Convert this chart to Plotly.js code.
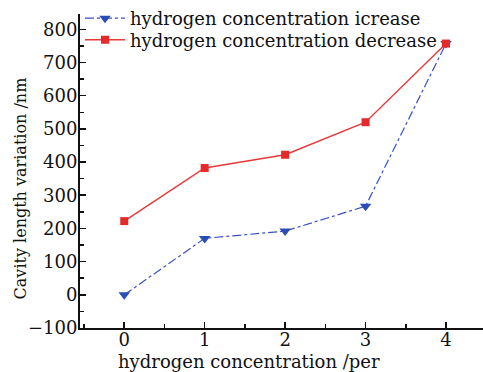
<!DOCTYPE html>
<html><head><meta charset="utf-8">
<script src="https://cdn.plot.ly/plotly-3.0.1.min.js"></script>
<style>html,body{margin:0;padding:0;background:#fff}#c{width:483px;height:372px}</style>
</head><body><div id="c"></div>
<script>
const xValues = [0, 1, 2, 3, 4];
const increaseValues = [0, 170, 192, 267, 757];
const decreaseValues = [222, 382, 422, 520, 757];
const seriesNames = ["hydrogen concentration icrease", "hydrogen concentration decrease"];
const xTitle = "hydrogen concentration /per";
const yTitle = "Cavity length variation /nm";

const font = "DejaVu Serif";
const W = 483, H = 372, mL = 80, mR = 0, mT = 13, mB = 44;
const pw = W - mL - mR, ph = H - mT - mB;
const px = v => (v - mL) / pw;          // pixel x -> paper x
const py = v => (H - mB - v) / ph;      // pixel y -> paper y

const traces = [
  {x: xValues, y: increaseValues, name: seriesNames[0], mode: "lines+markers", legend: "legend",
   line: {color: "#3a4fc4", width: 1.2, dash: "dashdot"},
   marker: {symbol: "triangle-down", size: 10, color: "#2a4cb8"}},
  {x: xValues, y: decreaseValues, name: seriesNames[1], mode: "lines+markers", legend: "legend2",
   line: {color: "#e8383a", width: 1.4},
   marker: {symbol: "square", size: 8, color: "#e62a2a"}}
];
const legendBase = {xanchor: "left", yanchor: "middle", bgcolor: "rgba(0,0,0,0)",
  font: {family: font, size: 18, color: "#111"}, itemwidth: 40, borderwidth: 0};
const layout = {
  width: W, height: H,
  margin: {l: mL, r: mR, t: mT, b: mB},
  paper_bgcolor: "#fff", plot_bgcolor: "#fff",
  font: {family: font, size: 18, color: "#111"},
  showlegend: true,
  legend: Object.assign({x: px(80), y: py(18)}, legendBase),
  legend2: Object.assign({x: px(80), y: py(40)}, legendBase),
  xaxis: {range: [-0.55, 4.46], tickvals: xValues, showgrid: false, zeroline: false,
          showline: true, linecolor: "#111", linewidth: 2, ticks: "inside", ticklen: 6, tickwidth: 1.5,
          tickcolor: "#111", minor: {dtick: 0.5, ticks: "inside", ticklen: 4, tickcolor: "#111", showgrid: false},
          tickfont: {family: font, size: 18}, ticklabelstandoff: -6},
  yaxis: {range: [-100, 846], dtick: 100, showgrid: false, zeroline: false,
          showline: true, linecolor: "#111", linewidth: 2, ticks: "inside", ticklen: 6, tickwidth: 1.5,
          tickcolor: "#111", minor: {dtick: 50, ticks: "inside", ticklen: 4, tickcolor: "#111", showgrid: false},
          tickfont: {family: font, size: 18}, ticklabelstandoff: -3},
  annotations: [
    {text: xTitle, xref: "paper", yref: "paper", x: px(249), y: py(362), xanchor: "center", yanchor: "middle",
     showarrow: false, font: {family: font, size: 18, color: "#111"}},
    {text: yTitle, xref: "paper", yref: "paper", x: px(20), y: py(188), xanchor: "center", yanchor: "middle",
     textangle: -90, showarrow: false, font: {family: font, size: 16, color: "#111"}}
  ]
};
Plotly.newPlot("c", traces, layout, {displayModeBar: false, staticPlot: true});
</script></body></html>
